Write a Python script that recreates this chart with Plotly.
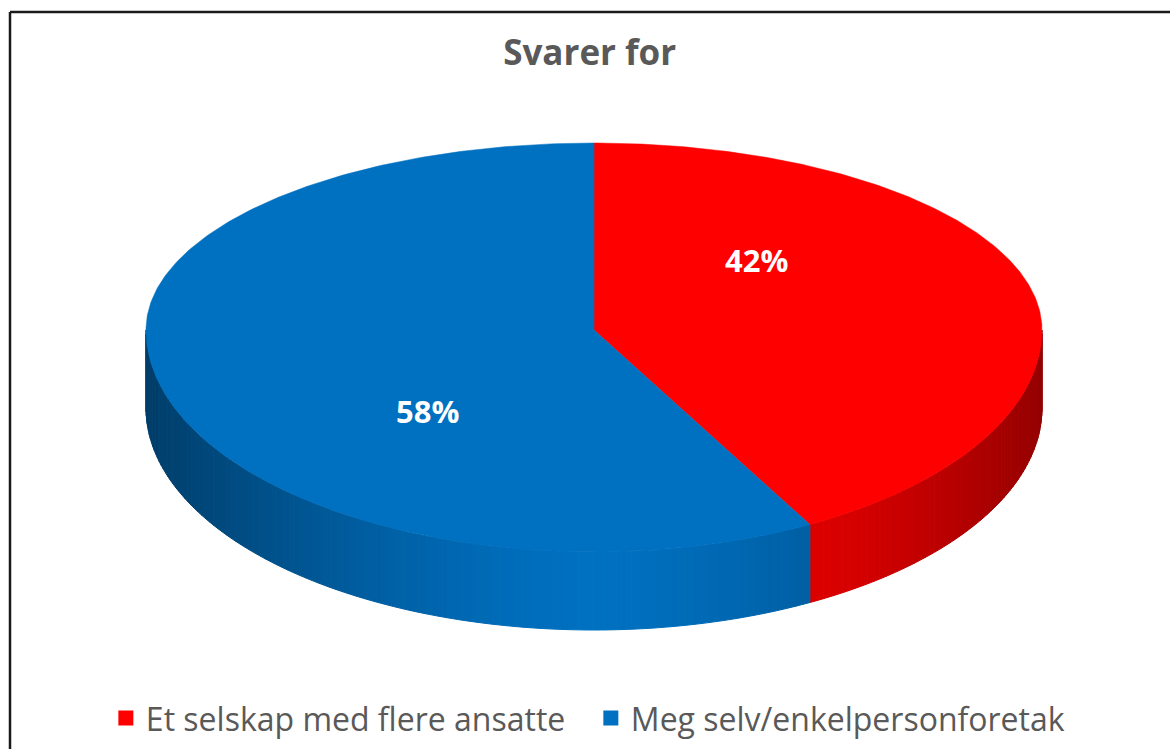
import numpy as np
import plotly.graph_objects as go

# ---- data ----
categories = ["Et selskap med flere ansatte", "Meg selv/enkelpersonforetak"]
values = [42, 58]
labels = ["42%", "58%"]
top_colors = ["#FF0000", "#0070C0"]
side_rgb = [(255, 0, 0), (0, 112, 192)]
title_text = "Svarer for"

# ---- geometry (pixel space) ----
W, H = 1170, 749
cx, cy = 594, 330
rx, ry_top, ry_bot = 448, 187, 222
depth = 78


def pt(theta):
    """theta in degrees, clockwise from 12 o'clock"""
    t = np.radians(theta)
    ry = np.where(np.cos(t) >= 0, ry_top, ry_bot)
    return cx + rx * np.sin(t), cy - ry * np.cos(t)


fracs = np.array(values, dtype=float) / sum(values)
starts = np.concatenate([[0], np.cumsum(fracs)[:-1]]) * 360
ends = np.cumsum(fracs) * 360

fig = go.Figure()

# ---- sides (front half: theta 90..270) ----
for i in range(len(values)):
    a0 = max(starts[i], 90)
    a1 = min(ends[i], 270)
    if a1 <= a0:
        continue
    n = int((a1 - a0) / 1.0) + 1
    th = np.linspace(a0, a1, n + 1)
    for k in range(n):
        ta, tb = th[k], th[k + 1]
        xa, ya = pt(ta)
        xb, yb = pt(tb)
        u = ((xa + xb) / 2 - cx) / rx
        f = 1 - 0.45 * abs(u) ** 1.5
        r, g, b = [int(round(c * f)) for c in side_rgb[i]]
        if i == 0:
            r = int(round(255 * (0.86 - 0.28 * max(0, (abs(u) - 0.5) / 0.5) ** 1.3)))
        col = f"rgb({r},{g},{b})"
        fig.add_trace(go.Scatter(
            x=[xa, xb, xb, xa, xa], y=[ya, yb, yb + depth, ya + depth, ya],
            mode="lines", fill="toself", fillcolor=col,
            line=dict(color=col, width=1), hoverinfo="skip", showlegend=False))

# ---- top faces ----
for i in range(len(values)):
    th = np.linspace(starts[i], ends[i], 300)
    xs, ys = pt(th)
    fig.add_trace(go.Scatter(
        x=np.concatenate([[cx], xs, [cx]]), y=np.concatenate([[cy], ys, [cy]]),
        mode="lines", fill="toself", fillcolor=top_colors[i],
        line=dict(color=top_colors[i], width=0.5), hoverinfo="skip", showlegend=False))

# ---- labels ----
label_r = 0.37
label_dx = [2, -6]
label_dy = [-53, 61]
for i in range(len(values)):
    mid = np.radians((starts[i] + ends[i]) / 2)
    ry = ry_top if np.cos(mid) >= 0 else ry_bot
    lx = cx + rx * label_r * np.sin(mid) + label_dx[i]
    ly = cy - ry * label_r * np.cos(mid) + label_dy[i]
    fig.add_annotation(x=lx, y=ly, text=f"<b>{labels[i]}</b>", showarrow=False,
                       font=dict(family="Open Sans", size=31, color="white"))

# ---- legend entries ----
for i in range(len(values)):
    fig.add_trace(go.Scatter(x=[None], y=[None], mode="markers", name=categories[i],
                             marker=dict(symbol="square", size=15, color=top_colors[i])))

fig.add_shape(type="line", xref="x", yref="y", x0=10, x1=W + 5, y0=12, y1=12,
              line=dict(color="#1a1a1a", width=2.5))
fig.add_shape(type="line", xref="x", yref="y", x0=10, x1=10, y0=12, y1=H + 5,
              line=dict(color="#1a1a1a", width=2.5))

fig.update_layout(
    width=W, height=H,
    margin=dict(l=0, r=0, t=0, b=0),
    paper_bgcolor="white", plot_bgcolor="white",
    title=dict(text=f"<b>{title_text}</b>", x=0.504, xanchor="center", y=0.929, yanchor="middle",
               font=dict(family="Open Sans", size=35, color="#595959")),
    xaxis=dict(range=[0, W], visible=False, fixedrange=True),
    yaxis=dict(range=[H, 0], visible=False, fixedrange=True),
    showlegend=True,
    legend=dict(orientation="h", x=0.505, xanchor="center", y=0.041, yanchor="middle",
                font=dict(family="Open Sans", size=32, color="#595959"),
                itemwidth=30, tracegroupgap=0, bgcolor="rgba(0,0,0,0)",
                entrywidth=440, entrywidthmode="pixels"),
)

fig.write_html("out.html", config={"displayModeBar": False},
               post_script="document.body.style.margin='0px';")
